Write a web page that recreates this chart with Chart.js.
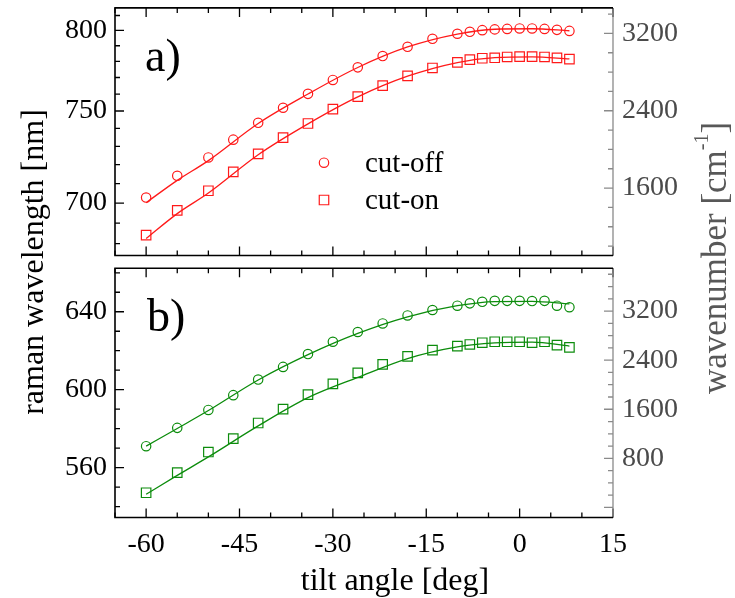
<!DOCTYPE html>
<html>
<head>
<meta charset="utf-8">
<script src="https://cdn.jsdelivr.net/npm/chart.js@4.4.1/dist/chart.umd.min.js"></script>
<style>
  html, body { margin: 0; padding: 0; background: #fff; }
  #wrap { position: relative; width: 735px; height: 598px; }
  #wrap canvas { position: absolute; left: 0; top: 0; }
</style>
</head>
<body>
<div id="wrap">
  <canvas id="panelA" width="735" height="598"></canvas>
  <canvas id="panelB" width="735" height="598"></canvas>
</div>
<script>
// measured tilt angles [deg]
const tiltAngles = [-60, -55, -50, -46, -42, -38, -34, -30, -26, -22, -18, -14, -10, -8, -6, -4, -2, 0, 2, 4, 6, 8];

// a) red filter, edges in nm
const redCutOff = [702.8, 714.1, 723.9, 733.7, 743.2, 751.9, 760.1, 768.5, 776.3, 783.4, 789.3, 794.5, 797.8, 799.1, 800.2, 800.7, 801.0, 801.3, 801.3, 801.0, 800.4, 799.7];
const redCutOn = [684.1, 696.3, 706.3, 716.2, 725.9, 734.8, 742.8, 751.1, 758.5, 765.1, 771.0, 775.9, 779.4, 781.1, 782.0, 782.3, 782.8, 783.0, 783.0, 782.8, 782.2, 781.5];

// b) green filter, edges in nm
const greenCutOff = [571.0, 580.4, 589.6, 597.2, 605.2, 611.7, 618.3, 624.6, 629.6, 634.0, 638.1, 640.9, 643.1, 644.3, 645.1, 645.6, 645.6, 645.6, 645.5, 645.6, 643.1, 642.3];
const greenCutOn = [547.1, 557.4, 568.0, 574.9, 582.9, 590.0, 597.5, 603.0, 608.6, 613.0, 617.1, 620.3, 622.4, 623.2, 624.1, 624.6, 624.6, 624.6, 624.1, 624.6, 622.9, 621.7];

// fitted curves
const fitAngles = [-60, -55, -50, -42, -34, -26, -18, -10, -4, 2, 8];
const redCutOffFit = [700.2, 711.7, 722.2, 742.8, 760.0, 776.2, 789.2, 797.6, 800.8, 801.1, 799.8];
const redCutOnFit = [682.5, 694.7, 705.1, 725.4, 742.6, 758.3, 770.8, 779.3, 782.4, 782.9, 781.6];
const greenCutOffFit = [571.0, 580.1, 589.3, 605.0, 618.0, 628.9, 637.4, 643.1, 645.2, 645.3, 644.0];
const greenCutOnFit = [546.3, 556.0, 565.5, 581.4, 595.9, 606.3, 616.0, 622.0, 624.0, 624.4, 622.4];

// axis ranges
const tiltRange = [-65, 15];
const redWavelengthRange = [674.4, 815.2];   // nm, axis is linear in wavenumber
const redLaser = 635.7;                      // nm, excitation for the top panel
const greenWavelengthRange = [534.4, 662.3]; // nm
const greenWavenumberRange = [-164, 3897];   // cm-1

const serif = "'Liberation Serif', 'Times New Roman', serif";
Chart.defaults.font.family = serif;
Chart.defaults.font.size = 28;
Chart.defaults.color = '#000';

// wavelength axis that is linear in 1/lambda (so it lines up with the wavenumber axis)
class ReciprocalScale extends Chart.LinearScale {
  getPixelForValue(value) {
    const a = 1 / this.min, b = 1 / this.max;
    return this.getPixelForDecimal((a - 1 / value) / (a - b));
  }
  getValueForPixel(pixel) {
    const a = 1 / this.min, b = 1 / this.max;
    return 1 / (a - this.getDecimalForPixel(pixel) * (a - b));
  }
}
ReciprocalScale.id = 'reciprocal';
ReciprocalScale.defaults = Chart.LinearScale.defaults;
Chart.register(ReciprocalScale);

const toShift = nm => 1e7 / redLaser - 1e7 / nm;

function pairs(xs, ys) {
  return xs.map((x, i) => ({ x: x, y: ys[i] }));
}

function isMultiple(v, m) {
  return Math.abs(v / m - Math.round(v / m)) < 1e-6;
}

// ticks on every multiple of step inside the axis range
function stepTicks(step) {
  return s => {
    const ticks = [];
    for (let v = Math.ceil(s.min / step - 1e-9) * step; v <= s.max + 1e-9; v += step) {
      ticks.push({ value: Math.round(v * 1000) / 1000 });
    }
    s.ticks = ticks;
  };
}

// fixed axis size, no extra room for overhanging labels
function fixSize(prop, size) {
  return s => {
    s[prop] = size;
    s.paddingTop = 0; s.paddingBottom = 0; s.paddingLeft = 0; s.paddingRight = 0;
  };
}

function drawRuns(ctx, runs, cx, cy, angle, color) {
  ctx.save();
  ctx.translate(cx, cy);
  ctx.rotate(angle);
  ctx.fillStyle = color;
  ctx.textBaseline = 'middle';
  ctx.textAlign = 'left';
  let total = 0;
  runs.forEach(r => { ctx.font = r.size + 'px ' + serif; r.w = ctx.measureText(r.text).width; total += r.w; });
  let x = -total / 2;
  runs.forEach(r => {
    ctx.font = r.size + 'px ' + serif;
    ctx.fillText(r.text, x, -(r.rise || 0));
    x += r.w;
  });
  ctx.restore();
}

function marker(ctx, style, radius, color, x, y) {
  ctx.save();
  ctx.strokeStyle = color;
  ctx.lineWidth = 1.2;
  if (Chart.helpers && Chart.helpers.drawPoint) {
    ctx.fillStyle = 'rgba(0,0,0,0)';
    Chart.helpers.drawPoint(ctx, { pointStyle: style, radius: radius, rotation: 0, borderWidth: 1.2 }, x, y);
  } else {
    ctx.beginPath();
    if (style === 'circle') ctx.arc(x, y, radius, 0, Math.PI * 2);
    else { const s = radius * Math.SQRT1_2; ctx.rect(x - s, y - s, 2 * s, 2 * s); }
    ctx.stroke();
  }
  ctx.restore();
}

// frame, inward ticks, panel letter, legend and axis titles
const decor = {
  id: 'decor',
  afterDraw(chart, args, o) {
    const ctx = chart.ctx, a = chart.chartArea;
    const sx = chart.scales.x, yl = chart.scales.yl, yr = chart.scales.yr;
    ctx.save();
    ctx.lineWidth = 1.3;

    ctx.strokeStyle = '#000';
    ctx.beginPath();
    sx.ticks.forEach(t => {
      const p = sx.getPixelForValue(t.value);
      const len = isMultiple(t.value, o.xMajor) ? 9 : 5;
      ctx.moveTo(p, a.top); ctx.lineTo(p, a.top + len);
      ctx.moveTo(p, a.bottom); ctx.lineTo(p, a.bottom - len);
    });
    yl.ticks.forEach(t => {
      const p = yl.getPixelForValue(t.value);
      const len = isMultiple(t.value, o.leftMajor) ? 9 : 5;
      ctx.moveTo(a.left, p); ctx.lineTo(a.left + len, p);
    });
    ctx.stroke();

    ctx.strokeStyle = '#8a8a8a';
    ctx.beginPath();
    yr.ticks.forEach(t => {
      const p = yr.getPixelForValue(t.value);
      const len = isMultiple(t.value, o.rightMajor) ? 9 : 5;
      ctx.moveTo(a.right, p); ctx.lineTo(a.right - len, p);
    });
    ctx.moveTo(a.right, a.top); ctx.lineTo(a.right, a.bottom);
    ctx.stroke();

    ctx.strokeStyle = '#000';
    ctx.lineWidth = 1.6;
    ctx.beginPath();
    ctx.moveTo(a.right, a.top); ctx.lineTo(a.left, a.top);
    ctx.lineTo(a.left, a.bottom); ctx.lineTo(a.right, a.bottom);
    ctx.stroke();

    ctx.fillStyle = '#000';
    ctx.textAlign = 'left';
    ctx.textBaseline = 'alphabetic';
    ctx.font = '46px ' + serif;
    ctx.fillText(o.letter, o.letterPos[0], o.letterPos[1]);

    if (o.legend) {
      ctx.font = '29px ' + serif;
      o.legend.forEach(item => {
        marker(ctx, item.style, item.radius, item.color, 324, item.y);
        ctx.fillStyle = '#000';
        ctx.fillText(item.text, 365, item.baseline);
      });
    }

    if (o.titles) {
      drawRuns(ctx, [{ text: 'raman wavelength [nm]', size: 32 }], 35, 262, -Math.PI / 2, '#000');
      drawRuns(ctx, [
        { text: 'wavenumber [cm', size: 35 },
        { text: '-1', size: 20, rise: 14 },
        { text: ']', size: 35 }
      ], 717, 258, -Math.PI / 2, '#585858');
      drawRuns(ctx, [{ text: 'tilt angle [deg]', size: 32 }], 395, 582, 0, '#000');
    }
    ctx.restore();
  }
};

function series(label, xs, ys, color, style, radius) {
  return {
    label: label,
    data: pairs(xs, ys),
    xAxisID: 'x',
    yAxisID: 'yl',
    showLine: false,
    pointStyle: style,
    pointRadius: radius,
    pointHoverRadius: radius,
    pointBorderWidth: 1.2,
    pointBorderColor: color,
    pointBackgroundColor: 'rgba(0,0,0,0)'
  };
}

function fitLine(xs, ys, color) {
  return {
    data: pairs(xs, ys),
    xAxisID: 'x',
    yAxisID: 'yl',
    showLine: true,
    borderColor: color,
    borderWidth: 1.3,
    pointRadius: 0,
    cubicInterpolationMode: 'monotone'
  };
}

function xAxis(showLabels) {
  return {
    type: 'linear',
    position: 'bottom',
    min: tiltRange[0],
    max: tiltRange[1],
    grid: { display: false, drawTicks: false },
    border: { display: false },
    afterBuildTicks: stepTicks(5),
    ticks: {
      display: showLabels,
      autoSkip: false,
      maxRotation: 0,
      padding: 10,
      callback: v => isMultiple(v, 15) ? String(v) : ''
    },
    afterFit: fixSize('height', showLabels ? 80.5 : 0)
  };
}

function leftAxis(type, range, major) {
  return {
    type: type,
    position: 'left',
    min: range[0],
    max: range[1],
    grid: { display: false, drawTicks: false },
    border: { display: false },
    afterBuildTicks: stepTicks(10),
    ticks: { autoSkip: false, padding: 8,
             callback: v => isMultiple(v, major) ? String(v) : '' },
    afterFit: fixSize('width', 115)
  };
}

function rightAxis(range, majorTest) {
  return {
    type: 'linear',
    position: 'right',
    min: range[0],
    max: range[1],
    grid: { display: false, drawTicks: false },
    border: { display: false },
    afterBuildTicks: stepTicks(200),
    ticks: { autoSkip: false, padding: 9, color: '#4a4a4a',
             callback: v => majorTest(v) ? String(v) : '' },
    afterFit: fixSize('width', 122)
  };
}

// a) red
const red = '#ff1a1a';
new Chart(document.getElementById('panelA'), {
  type: 'scatter',
  data: {
    datasets: [
      series('cut-off', tiltAngles, redCutOff, red, 'circle', 4.7),
      series('cut-on', tiltAngles, redCutOn, red, 'rect', 6.7),
      fitLine(fitAngles, redCutOffFit, red),
      fitLine(fitAngles, redCutOnFit, red)
    ]
  },
  options: {
    responsive: false,
    animation: false,
    events: [],
    layout: { padding: { top: 6.7, bottom: 342.5, left: 0, right: 0 } },
    scales: {
      x: xAxis(false),
      yl: leftAxis('reciprocal', redWavelengthRange, 50),
      yr: rightAxis([toShift(redWavelengthRange[0]), toShift(redWavelengthRange[1])],
                    v => isMultiple(v, 800))
    },
    plugins: {
      legend: { display: false },
      tooltip: { enabled: false },
      decor: {
        xMajor: 15, leftMajor: 50, rightMajor: 800,
        letter: 'a)', letterPos: [145, 71],
        legend: [
          { text: 'cut-off', style: 'circle', radius: 4.7, color: red, y: 162.7, baseline: 171.7 },
          { text: 'cut-on', style: 'rect', radius: 6.7, color: red, y: 200, baseline: 209 }
        ],
        titles: true
      }
    }
  },
  plugins: [decor]
});

// b) green
const green = '#0c8c0c';
new Chart(document.getElementById('panelB'), {
  type: 'scatter',
  data: {
    datasets: [
      series('cut-off', tiltAngles, greenCutOff, green, 'circle', 4.7),
      series('cut-on', tiltAngles, greenCutOn, green, 'rect', 6.7),
      fitLine(fitAngles, greenCutOffFit, green),
      fitLine(fitAngles, greenCutOnFit, green)
    ]
  },
  options: {
    responsive: false,
    animation: false,
    events: [],
    layout: { padding: { top: 268.3, bottom: 0, left: 0, right: 0 } },
    scales: {
      x: xAxis(true),
      yl: leftAxis('linear', greenWavelengthRange, 40),
      yr: rightAxis(greenWavenumberRange, v => v > 0 && isMultiple(v, 800))
    },
    plugins: {
      legend: { display: false },
      tooltip: { enabled: false },
      decor: {
        xMajor: 15, leftMajor: 40, rightMajor: 800,
        letter: 'b)', letterPos: [147, 331],
        legend: null,
        titles: false
      }
    }
  },
  plugins: [decor]
});
</script>
</body>
</html>
